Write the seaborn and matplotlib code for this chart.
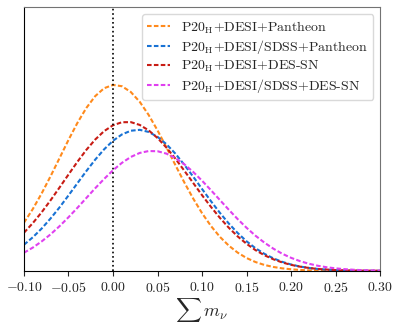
import pandas as pd
import matplotlib
matplotlib.use("Agg")
import matplotlib.pyplot as plt
import seaborn as sns

sns.set_style("ticks")
plt.rcParams['font.family'] = 'serif'
plt.rcParams['font.serif'] = ['cmr10', 'DejaVu Serif']
plt.rcParams['mathtext.fontset'] = 'cm'
plt.rcParams['axes.formatter.use_mathtext'] = True

# posterior of sum m_nu (arbitrary units)
mnu = [-0.10, -0.09, -0.08, -0.07, -0.06, -0.05, -0.04, -0.03, -0.02, -0.01,
       0.00, 0.01, 0.02, 0.03, 0.04, 0.05, 0.06, 0.07, 0.08, 0.09,
       0.10, 0.11, 0.12, 0.13, 0.14, 0.15, 0.16, 0.17, 0.18, 0.19,
       0.20, 0.21, 0.22, 0.23, 0.24, 0.25, 0.26, 0.27, 0.28, 0.29, 0.30]

desi_pantheon = [48.1, 61.9, 77.6, 94.8, 112.8, 130.9, 147.9, 162.8, 174.7, 182.6,
                 185.9, 184.6, 178.8, 169.0, 155.9, 140.4, 123.4, 105.8, 88.5, 72.3,
                 57.6, 44.8, 34.0, 25.2, 18.2, 12.8, 8.8, 5.9, 3.9, 2.5,
                 1.6, 0.9, 0.5, 0.3, 0.2, 0.1, 0.0, 0.0, 0.0, 0.0, 0.0]
sdss_pantheon = [26.1, 33.6, 42.4, 52.5, 63.5, 75.4, 87.6, 99.7, 111.2, 121.5,
                 130.1, 136.4, 140.1, 141.0, 138.9, 134.0, 126.6, 117.2, 106.1, 94.2,
                 81.8, 69.6, 58.0, 47.3, 37.8, 29.5, 22.6, 17.0, 12.5, 9.0,
                 6.3, 4.3, 2.9, 1.9, 1.2, 0.8, 0.5, 0.3, 0.2, 0.1, 0.1]
desi_dessn = [38.1, 47.8, 58.7, 70.7, 83.4, 96.3, 109.0, 120.9, 131.3, 139.7,
              145.6, 148.6, 148.7, 145.9, 140.5, 132.8, 123.2, 112.2, 100.2, 87.9,
              75.6, 63.9, 53.0, 43.1, 34.4, 27.0, 20.7, 15.6, 11.6, 8.4,
              6.0, 4.2, 2.9, 1.9, 1.3, 0.8, 0.5, 0.3, 0.2, 0.1, 0.1]
sdss_dessn = [18.1, 23.3, 29.5, 36.6, 44.7, 53.6, 63.0, 72.8, 82.6, 91.9,
              100.6, 108.0, 113.9, 117.9, 119.8, 119.6, 117.2, 112.8, 106.6, 98.9,
              90.1, 80.6, 70.8, 61.1, 51.7, 43.0, 35.1, 28.2, 22.2, 17.1,
              13.0, 9.7, 7.1, 5.1, 3.6, 2.5, 1.7, 1.1, 0.7, 0.5, 0.3]

labels = [r'P20$_{\rm H}$+DESI+Pantheon',
          r'P20$_{\rm H}$+DESI/SDSS+Pantheon',
          r'P20$_{\rm H}$+DESI+DES-SN',
          r'P20$_{\rm H}$+DESI/SDSS+DES-SN']
colores = ['#ff8a1c', '#1872d4', '#c81c14', '#e040f0']
series = [desi_pantheon, sdss_pantheon, desi_dessn, sdss_dessn]

fig = plt.figure(figsize=(3.99, 3.24), dpi=100)
ax = fig.add_axes([0.060, 0.164, 0.893, 0.815])

for vals, lab, col in zip(series, labels, colores):
    df = pd.DataFrame({'mnu': mnu, 'P': vals})
    sns.lineplot(x='mnu', y='P', data=df, color=col, label=lab, lw=1.5,
                 linestyle=(0, (2.2, 1.1)), ax=ax)

ax.axvline(0.0, color='black', linestyle=':', lw=1.2)

ax.set_xlim(-0.10, 0.30)
ax.set_ylim(0, 264)
ax.set_yticks([])
ax.set_ylabel('')
ax.set_xlabel(r'$\sum\, m_\nu$', fontsize=13, labelpad=1)
ax.set_xticks([-0.10, -0.05, 0.00, 0.05, 0.10, 0.15, 0.20, 0.25, 0.30])
ax.set_xticklabels(['$-0.10$', '$-0.05$', '$0.00$', '$0.05$', '$0.10$',
                    '$0.15$', '$0.20$', '$0.25$', '$0.30$'])
ax.tick_params(axis='x', labelsize=10, length=3.5, direction='out')
for s in ['top', 'right']:
    ax.spines[s].set_color('0.45')
ax.spines['left'].set_color('black')
ax.spines['bottom'].set_color('black')

ax.legend(loc='upper right', fontsize=10, frameon=True, framealpha=1,
          edgecolor='0.85', handlelength=1.6, labelspacing=0.18, borderaxespad=0.5)

plt.savefig('out.png', dpi=100)
